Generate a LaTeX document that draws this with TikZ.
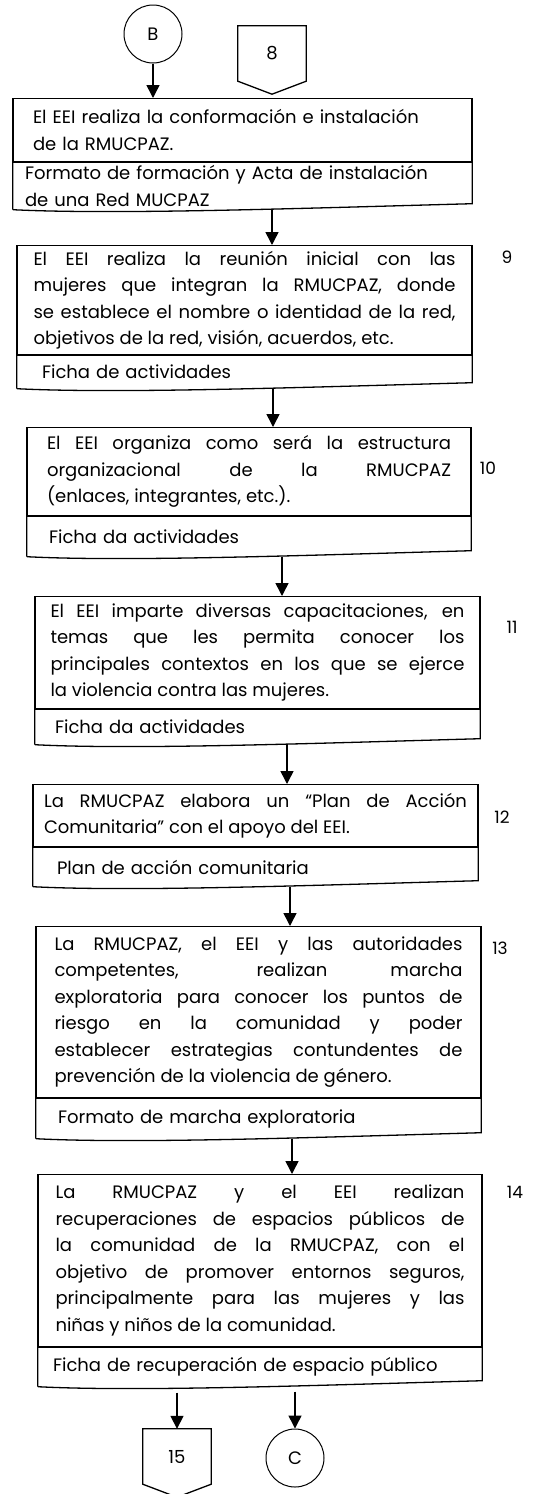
\documentclass[tikz,border=0pt]{standalone}
\usepackage{fontspec}
\setmainfont{Poppins}
\usetikzlibrary{arrows.meta,calc,positioning}
\hyphenpenalty=10000
\exhyphenpenalty=10000

% Contorno de documento (borde inferior ondulado).
\newcommand{\hoja}[1]{%
    \draw[borde] (#1.south west) -- (#1.north west) -- (#1.north east)
        -- ($(#1.south east)+(0,-6)$)
        .. controls ($(#1.south west)!.6!(#1.south east)+(0,-1)$)
        and ($(#1.south west)!.22!(#1.south east)+(0,5)$) .. (#1.south west);}
% Conector fuera de página.
\newcommand{\pagina}[1]{%
    \draw[borde] (#1.south west) -- (#1.north west) -- (#1.north east)
        -- (#1.south east) -- ($(#1.south)+(0,13)$) -- cycle;}

\begin{document}
\begin{tikzpicture}[x=1pt,y=-1pt,
    every node/.style={font=\fontsize{18}{26.5}\selectfont},
    borde/.style={line width=1.3pt},
    proceso/.style={draw,borde,inner sep=0pt,align=justify,anchor=north,text width=#1},
    documento/.style={inner sep=0pt,align=left,anchor=north,text width=#1},
    conector/.style={circle,draw,line width=1pt,minimum size=58pt,inner sep=0pt},
    fuera/.style={minimum width=68pt,minimum height=55pt,inner sep=0pt},
    paso/.style={font=\fontsize{17}{20}\selectfont},
    flecha/.style={line width=1.5pt,-{Triangle[length=13pt,width=13pt]}}]
    \useasboundingbox (0,0) rectangle (555,1494);

    % Inicio.
    \node[conector] (B) at (153,34) {B};
    \node[fuera] (p8) at (272,53.5) {8};
    \pagina{p8}

    % Paso 8.
    \node[proceso=419pt,align=left,minimum width=459pt,minimum height=63pt] (p1) at (242.5,98)
        {El EEI realiza la conformación e instalación\\de la RMUCPAZ.};
    \node[documento=435pt,minimum width=459pt,minimum height=47pt] (d1) at (p1.south)
        {Formato de formación y Acta de instalación\\de una Red MUCPAZ};
    \hoja{d1}

    % Paso 9.
    \node[proceso=422pt,minimum width=455pt,minimum height=109pt] (p2) at (244.5,245)
        {El EEI realiza la reunión inicial con las\linebreak
         mujeres que integran la RMUCPAZ, donde\linebreak
         se establece el nombre o identidad de la red,\linebreak
         objetivos de la red, visión, acuerdos, etc.};
    \node[documento=405pt,minimum width=455pt,minimum height=33pt] (d2) at (p2.south)
        {Ficha de actividades};
    \hoja{d2}
    \node[paso] (n9) at (507,257) {9};

    % Paso 10.
    \node[proceso=404pt,minimum width=444pt,minimum height=88pt] (p3) at (249,427)
        {El EEI organiza como será la estructura\linebreak
         organizacional de la RMUCPAZ\linebreak
         (enlaces, integrantes, etc.).};
    \node[documento=400pt,minimum width=444pt,minimum height=40pt] (d3) at (p3.south)
        {Ficha da actividades};
    \hoja{d3}
    \node[paso] (n10) at (488,468) {10};

    % Paso 11.
    \node[proceso=414pt,minimum width=445pt,minimum height=112pt] (p4) at (257.5,596)
        {El EEI imparte diversas capacitaciones, en\linebreak
         temas que les permita conocer los\linebreak
         principales contextos en los que se ejerce\linebreak
         la violencia contra las mujeres.};
    \node[documento=405pt,minimum width=445pt,minimum height=35pt] (d4) at (p4.south)
        {Ficha da actividades};
    \hoja{d4}
    \node[paso] (n11) at (512,627) {11};

    % Paso 12.
    \node[proceso=423pt,minimum width=445pt,minimum height=62pt] (p5) at (255.5,784)
        {La RMUCPAZ elabora un “Plan de Acción\linebreak
         Comunitaria” con el apoyo del EEI.};
    \node[documento=397pt,minimum width=445pt,minimum height=39pt] (d5) at (p5.south)
        {Plan de acción comunitaria};
    \hoja{d5}
    \node[paso] (n12) at (502,817) {12};

    % Paso 13.
    \node[proceso=408pt,minimum width=445pt,minimum height=171pt] (p6) at (258.5,926)
        {La RMUCPAZ, el EEI y las autoridades\linebreak
         competentes, realizan marcha\linebreak
         exploratoria para conocer los puntos de\linebreak
         riesgo en la comunidad y poder\linebreak
         establecer estrategias contundentes de\linebreak
         prevención de la violencia de género.};
    \node[documento=401pt,minimum width=445pt,minimum height=40pt] (d6) at (p6.south)
        {Formato de marcha exploratoria};
    \hoja{d6}
    \node[paso] (n13) at (500,948) {13};

    % Paso 14.
    \node[proceso=409pt,minimum width=444pt,minimum height=172pt] (p7) at (260,1174)
        {La RMUCPAZ y el EEI realizan\linebreak
         recuperaciones de espacios públicos de\linebreak
         la comunidad de la RMUCPAZ, con el\linebreak
         objetivo de promover entornos seguros,\linebreak
         principalmente para las mujeres y las\linebreak
         niñas y niños de la comunidad.};
    \node[documento=414pt,minimum width=444pt,minimum height=39pt] (d7) at (p7.south)
        {Ficha de recuperación de espacio público};
    \hoja{d7}
    \node[paso] (n14) at (515,1192) {14};

    % Salidas.
    \node[fuera] (p15) at (177,1456.5) {15};
    \pagina{p15}
    \node[conector] (C) at (295,1458) {C};

    % Flechas.
    \draw[flecha] (B) -- (B |- p1.north);
    \draw[flecha] (d1.south -| p8) -- (p2.north -| p8);
    \draw[flecha] ([xshift=28.5]d2.south) -- ([xshift=28.5]d2.south |- p3.north);
    \draw[flecha] ([xshift=33]d3.south) -- ([xshift=33]d3.south |- p4.north);
    \draw[flecha] ([xshift=29.5]d4.south) -- ([xshift=29.5]d4.south |- p5.north);
    \draw[flecha] ([xshift=34.5]d5.south) -- ([xshift=34.5]d5.south |- p6.north);
    \draw[flecha] ([xshift=33.5]d6.south) -- ([xshift=33.5]d6.south |- p7.north);
    \draw[flecha] ([yshift=-6]d7.south -| p15) -- (p15);
    \draw[flecha] ([yshift=-5]d7.south -| C) -- (C);
\end{tikzpicture}
\end{document}
